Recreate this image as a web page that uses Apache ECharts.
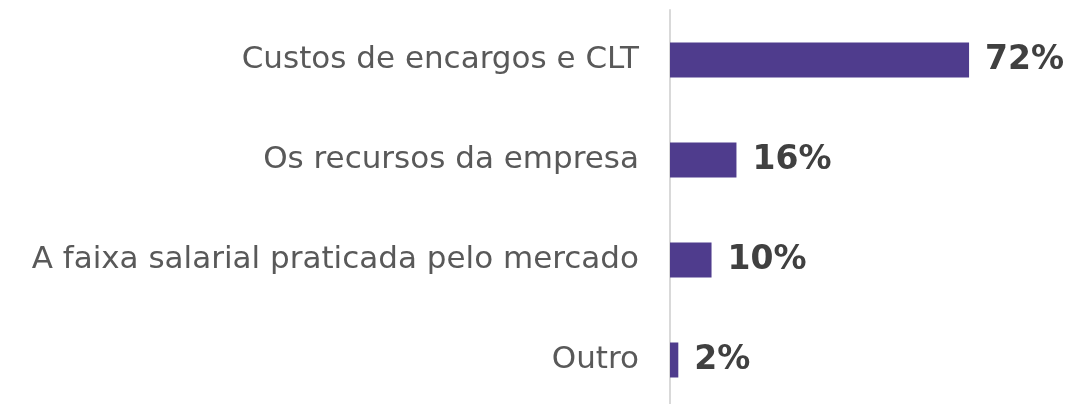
<!DOCTYPE html>
<html><head><meta charset="utf-8">
<script src="https://cdn.jsdelivr.net/npm/echarts@6/dist/echarts.min.js"></script>
<style>html,body{margin:0;padding:0;background:#fff;overflow:hidden}#c{width:1069px;height:410px}</style>
</head><body><div id="c"></div>
<script>
const categories = ["Custos de encargos e CLT","Os recursos da empresa","A faixa salarial praticada pelo mercado","Outro"];
const values = [72,16,10,2];

const chart = echarts.init(document.getElementById('c'), null, {renderer:'canvas'});
chart.setOption({
  animation:false,
  grid:{left:670, top:10, right:66.7, bottom:0, containLabel:false},
  xAxis:{type:'value', min:0, max:80, show:false},
  yAxis:{type:'category', data:categories, inverse:true,
    axisLine:{show:true, lineStyle:{color:'#d9d9d9', width:2}},
    axisTick:{show:false},
    axisLabel:{color:'#595959', fontFamily:'DejaVu Sans', fontSize:31, margin:31}
  },
  series:[{type:'bar', data:values, barWidth:35,
    itemStyle:{color:'#4f3c8d'},
    label:{show:true, position:'right', distance:16, formatter:'{c}%',
      color:'#404040', fontFamily:'DejaVu Sans', fontWeight:'bold', fontSize:33}
  }]
});
</script></body></html>
